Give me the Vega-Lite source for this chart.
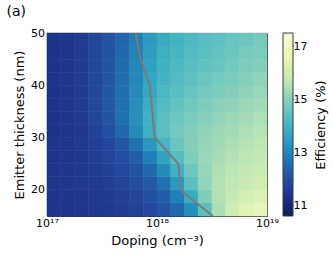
{
  "$schema": "https://vega.github.io/schema/vega-lite/v6.json",
  "padding": {"left": 6, "top": 5, "right": 2, "bottom": 2},
  "title": {"text": "(a)", "anchor": "start", "frame": "bounds", "fontSize": 14, "fontWeight": "normal", "font": "DejaVu Sans", "dx": -7, "offset": 8, "color": "black"},
  "config": {
    "font": "DejaVu Sans",
    "view": {"stroke": null},
    "axis": {"labelFont": "DejaVu Sans", "titleFont": "DejaVu Sans", "labelFontSize": 11, "titleFontSize": 13, "titleFontWeight": "normal", "labelColor": "black", "titleColor": "black", "domainColor": "#3a3a3a", "tickColor": "#3a3a3a", "grid": false}
  },
  "datasets": {
    "grid": [
      {"d0":1e17,"d1":1.334e17,"t0":15,"t1":17.5,"eff":10.75},{"d0":1.334e17,"d1":1.778e17,"t0":15,"t1":17.5,"eff":10.75},{"d0":1.778e17,"d1":2.371e17,"t0":15,"t1":17.5,"eff":10.8},{"d0":2.371e17,"d1":3.162e17,"t0":15,"t1":17.5,"eff":10.85},{"d0":3.162e17,"d1":4.217e17,"t0":15,"t1":17.5,"eff":10.9},{"d0":4.217e17,"d1":5.623e17,"t0":15,"t1":17.5,"eff":11.0},{"d0":5.623e17,"d1":7.499e17,"t0":15,"t1":17.5,"eff":11.1},{"d0":7.499e17,"d1":1e18,"t0":15,"t1":17.5,"eff":11.3},{"d0":1e18,"d1":1.334e18,"t0":15,"t1":17.5,"eff":11.6},{"d0":1.334e18,"d1":1.778e18,"t0":15,"t1":17.5,"eff":12.1},{"d0":1.778e18,"d1":2.371e18,"t0":15,"t1":17.5,"eff":13.0},{"d0":2.371e18,"d1":3.162e18,"t0":15,"t1":17.5,"eff":14.5},{"d0":3.162e18,"d1":4.217e18,"t0":15,"t1":17.5,"eff":15.8},{"d0":4.217e18,"d1":5.623e18,"t0":15,"t1":17.5,"eff":16.6},{"d0":5.623e18,"d1":7.499e18,"t0":15,"t1":17.5,"eff":16.95},{"d0":7.499e18,"d1":1e19,"t0":15,"t1":17.5,"eff":17.2},
      {"d0":1e17,"d1":1.334e17,"t0":17.5,"t1":20,"eff":10.75},{"d0":1.334e17,"d1":1.778e17,"t0":17.5,"t1":20,"eff":10.8},{"d0":1.778e17,"d1":2.371e17,"t0":17.5,"t1":20,"eff":10.8},{"d0":2.371e17,"d1":3.162e17,"t0":17.5,"t1":20,"eff":10.85},{"d0":3.162e17,"d1":4.217e17,"t0":17.5,"t1":20,"eff":10.95},{"d0":4.217e17,"d1":5.623e17,"t0":17.5,"t1":20,"eff":11.05},{"d0":5.623e17,"d1":7.499e17,"t0":17.5,"t1":20,"eff":11.25},{"d0":7.499e17,"d1":1e18,"t0":17.5,"t1":20,"eff":11.5},{"d0":1e18,"d1":1.334e18,"t0":17.5,"t1":20,"eff":11.9},{"d0":1.334e18,"d1":1.778e18,"t0":17.5,"t1":20,"eff":12.6},{"d0":1.778e18,"d1":2.371e18,"t0":17.5,"t1":20,"eff":13.8},{"d0":2.371e18,"d1":3.162e18,"t0":17.5,"t1":20,"eff":15.1},{"d0":3.162e18,"d1":4.217e18,"t0":17.5,"t1":20,"eff":15.95},{"d0":4.217e18,"d1":5.623e18,"t0":17.5,"t1":20,"eff":16.4},{"d0":5.623e18,"d1":7.499e18,"t0":17.5,"t1":20,"eff":16.65},{"d0":7.499e18,"d1":1e19,"t0":17.5,"t1":20,"eff":16.85},
      {"d0":1e17,"d1":1.334e17,"t0":20,"t1":22.5,"eff":10.75},{"d0":1.334e17,"d1":1.778e17,"t0":20,"t1":22.5,"eff":10.8},{"d0":1.778e17,"d1":2.371e17,"t0":20,"t1":22.5,"eff":10.85},{"d0":2.371e17,"d1":3.162e17,"t0":20,"t1":22.5,"eff":10.9},{"d0":3.162e17,"d1":4.217e17,"t0":20,"t1":22.5,"eff":11.0},{"d0":4.217e17,"d1":5.623e17,"t0":20,"t1":22.5,"eff":11.15},{"d0":5.623e17,"d1":7.499e17,"t0":20,"t1":22.5,"eff":11.4},{"d0":7.499e17,"d1":1e18,"t0":20,"t1":22.5,"eff":11.75},{"d0":1e18,"d1":1.334e18,"t0":20,"t1":22.5,"eff":12.3},{"d0":1.334e18,"d1":1.778e18,"t0":20,"t1":22.5,"eff":13.3},{"d0":1.778e18,"d1":2.371e18,"t0":20,"t1":22.5,"eff":14.5},{"d0":2.371e18,"d1":3.162e18,"t0":20,"t1":22.5,"eff":15.4},{"d0":3.162e18,"d1":4.217e18,"t0":20,"t1":22.5,"eff":15.95},{"d0":4.217e18,"d1":5.623e18,"t0":20,"t1":22.5,"eff":16.25},{"d0":5.623e18,"d1":7.499e18,"t0":20,"t1":22.5,"eff":16.45},{"d0":7.499e18,"d1":1e19,"t0":20,"t1":22.5,"eff":16.6},
      {"d0":1e17,"d1":1.334e17,"t0":22.5,"t1":25,"eff":10.75},{"d0":1.334e17,"d1":1.778e17,"t0":22.5,"t1":25,"eff":10.8},{"d0":1.778e17,"d1":2.371e17,"t0":22.5,"t1":25,"eff":10.85},{"d0":2.371e17,"d1":3.162e17,"t0":22.5,"t1":25,"eff":10.95},{"d0":3.162e17,"d1":4.217e17,"t0":22.5,"t1":25,"eff":11.1},{"d0":4.217e17,"d1":5.623e17,"t0":22.5,"t1":25,"eff":11.3},{"d0":5.623e17,"d1":7.499e17,"t0":22.5,"t1":25,"eff":11.6},{"d0":7.499e17,"d1":1e18,"t0":22.5,"t1":25,"eff":12.1},{"d0":1e18,"d1":1.334e18,"t0":22.5,"t1":25,"eff":12.9},{"d0":1.334e18,"d1":1.778e18,"t0":22.5,"t1":25,"eff":13.9},{"d0":1.778e18,"d1":2.371e18,"t0":22.5,"t1":25,"eff":14.8},{"d0":2.371e18,"d1":3.162e18,"t0":22.5,"t1":25,"eff":15.45},{"d0":3.162e18,"d1":4.217e18,"t0":22.5,"t1":25,"eff":15.85},{"d0":4.217e18,"d1":5.623e18,"t0":22.5,"t1":25,"eff":16.1},{"d0":5.623e18,"d1":7.499e18,"t0":22.5,"t1":25,"eff":16.3},{"d0":7.499e18,"d1":1e19,"t0":22.5,"t1":25,"eff":16.45},
      {"d0":1e17,"d1":1.334e17,"t0":25,"t1":27.5,"eff":10.75},{"d0":1.334e17,"d1":1.778e17,"t0":25,"t1":27.5,"eff":10.8},{"d0":1.778e17,"d1":2.371e17,"t0":25,"t1":27.5,"eff":10.85},{"d0":2.371e17,"d1":3.162e17,"t0":25,"t1":27.5,"eff":11.0},{"d0":3.162e17,"d1":4.217e17,"t0":25,"t1":27.5,"eff":11.2},{"d0":4.217e17,"d1":5.623e17,"t0":25,"t1":27.5,"eff":11.45},{"d0":5.623e17,"d1":7.499e17,"t0":25,"t1":27.5,"eff":11.9},{"d0":7.499e17,"d1":1e18,"t0":25,"t1":27.5,"eff":12.6},{"d0":1e18,"d1":1.334e18,"t0":25,"t1":27.5,"eff":13.5},{"d0":1.334e18,"d1":1.778e18,"t0":25,"t1":27.5,"eff":14.4},{"d0":1.778e18,"d1":2.371e18,"t0":25,"t1":27.5,"eff":15.1},{"d0":2.371e18,"d1":3.162e18,"t0":25,"t1":27.5,"eff":15.5},{"d0":3.162e18,"d1":4.217e18,"t0":25,"t1":27.5,"eff":15.75},{"d0":4.217e18,"d1":5.623e18,"t0":25,"t1":27.5,"eff":15.95},{"d0":5.623e18,"d1":7.499e18,"t0":25,"t1":27.5,"eff":16.15},{"d0":7.499e18,"d1":1e19,"t0":25,"t1":27.5,"eff":16.3},
      {"d0":1e17,"d1":1.334e17,"t0":27.5,"t1":30,"eff":10.75},{"d0":1.334e17,"d1":1.778e17,"t0":27.5,"t1":30,"eff":10.8},{"d0":1.778e17,"d1":2.371e17,"t0":27.5,"t1":30,"eff":10.9},{"d0":2.371e17,"d1":3.162e17,"t0":27.5,"t1":30,"eff":11.05},{"d0":3.162e17,"d1":4.217e17,"t0":27.5,"t1":30,"eff":11.3},{"d0":4.217e17,"d1":5.623e17,"t0":27.5,"t1":30,"eff":11.7},{"d0":5.623e17,"d1":7.499e17,"t0":27.5,"t1":30,"eff":12.3},{"d0":7.499e17,"d1":1e18,"t0":27.5,"t1":30,"eff":13.2},{"d0":1e18,"d1":1.334e18,"t0":27.5,"t1":30,"eff":14.1},{"d0":1.334e18,"d1":1.778e18,"t0":27.5,"t1":30,"eff":14.8},{"d0":1.778e18,"d1":2.371e18,"t0":27.5,"t1":30,"eff":15.2},{"d0":2.371e18,"d1":3.162e18,"t0":27.5,"t1":30,"eff":15.45},{"d0":3.162e18,"d1":4.217e18,"t0":27.5,"t1":30,"eff":15.65},{"d0":4.217e18,"d1":5.623e18,"t0":27.5,"t1":30,"eff":15.85},{"d0":5.623e18,"d1":7.499e18,"t0":27.5,"t1":30,"eff":16.0},{"d0":7.499e18,"d1":1e19,"t0":27.5,"t1":30,"eff":16.15},
      {"d0":1e17,"d1":1.334e17,"t0":30,"t1":32.5,"eff":10.7},{"d0":1.334e17,"d1":1.778e17,"t0":30,"t1":32.5,"eff":10.75},{"d0":1.778e17,"d1":2.371e17,"t0":30,"t1":32.5,"eff":10.85},{"d0":2.371e17,"d1":3.162e17,"t0":30,"t1":32.5,"eff":11.1},{"d0":3.162e17,"d1":4.217e17,"t0":30,"t1":32.5,"eff":11.5},{"d0":4.217e17,"d1":5.623e17,"t0":30,"t1":32.5,"eff":12.1},{"d0":5.623e17,"d1":7.499e17,"t0":30,"t1":32.5,"eff":12.9},{"d0":7.499e17,"d1":1e18,"t0":30,"t1":32.5,"eff":13.85},{"d0":1e18,"d1":1.334e18,"t0":30,"t1":32.5,"eff":14.5},{"d0":1.334e18,"d1":1.778e18,"t0":30,"t1":32.5,"eff":14.9},{"d0":1.778e18,"d1":2.371e18,"t0":30,"t1":32.5,"eff":15.15},{"d0":2.371e18,"d1":3.162e18,"t0":30,"t1":32.5,"eff":15.35},{"d0":3.162e18,"d1":4.217e18,"t0":30,"t1":32.5,"eff":15.55},{"d0":4.217e18,"d1":5.623e18,"t0":30,"t1":32.5,"eff":15.7},{"d0":5.623e18,"d1":7.499e18,"t0":30,"t1":32.5,"eff":15.85},{"d0":7.499e18,"d1":1e19,"t0":30,"t1":32.5,"eff":16.0},
      {"d0":1e17,"d1":1.334e17,"t0":32.5,"t1":35,"eff":10.7},{"d0":1.334e17,"d1":1.778e17,"t0":32.5,"t1":35,"eff":10.8},{"d0":1.778e17,"d1":2.371e17,"t0":32.5,"t1":35,"eff":10.9},{"d0":2.371e17,"d1":3.162e17,"t0":32.5,"t1":35,"eff":11.2},{"d0":3.162e17,"d1":4.217e17,"t0":32.5,"t1":35,"eff":11.65},{"d0":4.217e17,"d1":5.623e17,"t0":32.5,"t1":35,"eff":12.3},{"d0":5.623e17,"d1":7.499e17,"t0":32.5,"t1":35,"eff":13.05},{"d0":7.499e17,"d1":1e18,"t0":32.5,"t1":35,"eff":13.95},{"d0":1e18,"d1":1.334e18,"t0":32.5,"t1":35,"eff":14.5},{"d0":1.334e18,"d1":1.778e18,"t0":32.5,"t1":35,"eff":14.8},{"d0":1.778e18,"d1":2.371e18,"t0":32.5,"t1":35,"eff":15.0},{"d0":2.371e18,"d1":3.162e18,"t0":32.5,"t1":35,"eff":15.2},{"d0":3.162e18,"d1":4.217e18,"t0":32.5,"t1":35,"eff":15.4},{"d0":4.217e18,"d1":5.623e18,"t0":32.5,"t1":35,"eff":15.55},{"d0":5.623e18,"d1":7.499e18,"t0":32.5,"t1":35,"eff":15.7},{"d0":7.499e18,"d1":1e19,"t0":32.5,"t1":35,"eff":15.85},
      {"d0":1e17,"d1":1.334e17,"t0":35,"t1":37.5,"eff":10.7},{"d0":1.334e17,"d1":1.778e17,"t0":35,"t1":37.5,"eff":10.8},{"d0":1.778e17,"d1":2.371e17,"t0":35,"t1":37.5,"eff":10.95},{"d0":2.371e17,"d1":3.162e17,"t0":35,"t1":37.5,"eff":11.25},{"d0":3.162e17,"d1":4.217e17,"t0":35,"t1":37.5,"eff":11.7},{"d0":4.217e17,"d1":5.623e17,"t0":35,"t1":37.5,"eff":12.3},{"d0":5.623e17,"d1":7.499e17,"t0":35,"t1":37.5,"eff":13.0},{"d0":7.499e17,"d1":1e18,"t0":35,"t1":37.5,"eff":13.8},{"d0":1e18,"d1":1.334e18,"t0":35,"t1":37.5,"eff":14.35},{"d0":1.334e18,"d1":1.778e18,"t0":35,"t1":37.5,"eff":14.65},{"d0":1.778e18,"d1":2.371e18,"t0":35,"t1":37.5,"eff":14.85},{"d0":2.371e18,"d1":3.162e18,"t0":35,"t1":37.5,"eff":15.05},{"d0":3.162e18,"d1":4.217e18,"t0":35,"t1":37.5,"eff":15.25},{"d0":4.217e18,"d1":5.623e18,"t0":35,"t1":37.5,"eff":15.4},{"d0":5.623e18,"d1":7.499e18,"t0":35,"t1":37.5,"eff":15.55},{"d0":7.499e18,"d1":1e19,"t0":35,"t1":37.5,"eff":15.7},
      {"d0":1e17,"d1":1.334e17,"t0":37.5,"t1":40,"eff":10.7},{"d0":1.334e17,"d1":1.778e17,"t0":37.5,"t1":40,"eff":10.8},{"d0":1.778e17,"d1":2.371e17,"t0":37.5,"t1":40,"eff":10.95},{"d0":2.371e17,"d1":3.162e17,"t0":37.5,"t1":40,"eff":11.25},{"d0":3.162e17,"d1":4.217e17,"t0":37.5,"t1":40,"eff":11.7},{"d0":4.217e17,"d1":5.623e17,"t0":37.5,"t1":40,"eff":12.25},{"d0":5.623e17,"d1":7.499e17,"t0":37.5,"t1":40,"eff":12.9},{"d0":7.499e17,"d1":1e18,"t0":37.5,"t1":40,"eff":13.65},{"d0":1e18,"d1":1.334e18,"t0":37.5,"t1":40,"eff":14.2},{"d0":1.334e18,"d1":1.778e18,"t0":37.5,"t1":40,"eff":14.5},{"d0":1.778e18,"d1":2.371e18,"t0":37.5,"t1":40,"eff":14.7},{"d0":2.371e18,"d1":3.162e18,"t0":37.5,"t1":40,"eff":14.9},{"d0":3.162e18,"d1":4.217e18,"t0":37.5,"t1":40,"eff":15.05},{"d0":4.217e18,"d1":5.623e18,"t0":37.5,"t1":40,"eff":15.2},{"d0":5.623e18,"d1":7.499e18,"t0":37.5,"t1":40,"eff":15.35},{"d0":7.499e18,"d1":1e19,"t0":37.5,"t1":40,"eff":15.5},
      {"d0":1e17,"d1":1.334e17,"t0":40,"t1":42.5,"eff":10.7},{"d0":1.334e17,"d1":1.778e17,"t0":40,"t1":42.5,"eff":10.8},{"d0":1.778e17,"d1":2.371e17,"t0":40,"t1":42.5,"eff":10.95},{"d0":2.371e17,"d1":3.162e17,"t0":40,"t1":42.5,"eff":11.25},{"d0":3.162e17,"d1":4.217e17,"t0":40,"t1":42.5,"eff":11.65},{"d0":4.217e17,"d1":5.623e17,"t0":40,"t1":42.5,"eff":12.2},{"d0":5.623e17,"d1":7.499e17,"t0":40,"t1":42.5,"eff":12.85},{"d0":7.499e17,"d1":1e18,"t0":40,"t1":42.5,"eff":13.55},{"d0":1e18,"d1":1.334e18,"t0":40,"t1":42.5,"eff":14.05},{"d0":1.334e18,"d1":1.778e18,"t0":40,"t1":42.5,"eff":14.35},{"d0":1.778e18,"d1":2.371e18,"t0":40,"t1":42.5,"eff":14.55},{"d0":2.371e18,"d1":3.162e18,"t0":40,"t1":42.5,"eff":14.75},{"d0":3.162e18,"d1":4.217e18,"t0":40,"t1":42.5,"eff":14.9},{"d0":4.217e18,"d1":5.623e18,"t0":40,"t1":42.5,"eff":15.05},{"d0":5.623e18,"d1":7.499e18,"t0":40,"t1":42.5,"eff":15.2},{"d0":7.499e18,"d1":1e19,"t0":40,"t1":42.5,"eff":15.35},
      {"d0":1e17,"d1":1.334e17,"t0":42.5,"t1":45,"eff":10.7},{"d0":1.334e17,"d1":1.778e17,"t0":42.5,"t1":45,"eff":10.8},{"d0":1.778e17,"d1":2.371e17,"t0":42.5,"t1":45,"eff":10.95},{"d0":2.371e17,"d1":3.162e17,"t0":42.5,"t1":45,"eff":11.25},{"d0":3.162e17,"d1":4.217e17,"t0":42.5,"t1":45,"eff":11.65},{"d0":4.217e17,"d1":5.623e17,"t0":42.5,"t1":45,"eff":12.15},{"d0":5.623e17,"d1":7.499e17,"t0":42.5,"t1":45,"eff":12.8},{"d0":7.499e17,"d1":1e18,"t0":42.5,"t1":45,"eff":13.45},{"d0":1e18,"d1":1.334e18,"t0":42.5,"t1":45,"eff":13.95},{"d0":1.334e18,"d1":1.778e18,"t0":42.5,"t1":45,"eff":14.25},{"d0":1.778e18,"d1":2.371e18,"t0":42.5,"t1":45,"eff":14.45},{"d0":2.371e18,"d1":3.162e18,"t0":42.5,"t1":45,"eff":14.6},{"d0":3.162e18,"d1":4.217e18,"t0":42.5,"t1":45,"eff":14.75},{"d0":4.217e18,"d1":5.623e18,"t0":42.5,"t1":45,"eff":14.9},{"d0":5.623e18,"d1":7.499e18,"t0":42.5,"t1":45,"eff":15.05},{"d0":7.499e18,"d1":1e19,"t0":42.5,"t1":45,"eff":15.2},
      {"d0":1e17,"d1":1.334e17,"t0":45,"t1":47.5,"eff":10.7},{"d0":1.334e17,"d1":1.778e17,"t0":45,"t1":47.5,"eff":10.8},{"d0":1.778e17,"d1":2.371e17,"t0":45,"t1":47.5,"eff":10.95},{"d0":2.371e17,"d1":3.162e17,"t0":45,"t1":47.5,"eff":11.25},{"d0":3.162e17,"d1":4.217e17,"t0":45,"t1":47.5,"eff":11.65},{"d0":4.217e17,"d1":5.623e17,"t0":45,"t1":47.5,"eff":12.1},{"d0":5.623e17,"d1":7.499e17,"t0":45,"t1":47.5,"eff":12.7},{"d0":7.499e17,"d1":1e18,"t0":45,"t1":47.5,"eff":13.35},{"d0":1e18,"d1":1.334e18,"t0":45,"t1":47.5,"eff":13.85},{"d0":1.334e18,"d1":1.778e18,"t0":45,"t1":47.5,"eff":14.15},{"d0":1.778e18,"d1":2.371e18,"t0":45,"t1":47.5,"eff":14.35},{"d0":2.371e18,"d1":3.162e18,"t0":45,"t1":47.5,"eff":14.5},{"d0":3.162e18,"d1":4.217e18,"t0":45,"t1":47.5,"eff":14.65},{"d0":4.217e18,"d1":5.623e18,"t0":45,"t1":47.5,"eff":14.8},{"d0":5.623e18,"d1":7.499e18,"t0":45,"t1":47.5,"eff":14.95},{"d0":7.499e18,"d1":1e19,"t0":45,"t1":47.5,"eff":15.05},
      {"d0":1e17,"d1":1.334e17,"t0":47.5,"t1":50,"eff":10.65},{"d0":1.334e17,"d1":1.778e17,"t0":47.5,"t1":50,"eff":10.75},{"d0":1.778e17,"d1":2.371e17,"t0":47.5,"t1":50,"eff":10.95},{"d0":2.371e17,"d1":3.162e17,"t0":47.5,"t1":50,"eff":11.25},{"d0":3.162e17,"d1":4.217e17,"t0":47.5,"t1":50,"eff":11.6},{"d0":4.217e17,"d1":5.623e17,"t0":47.5,"t1":50,"eff":12.05},{"d0":5.623e17,"d1":7.499e17,"t0":47.5,"t1":50,"eff":12.6},{"d0":7.499e17,"d1":1e18,"t0":47.5,"t1":50,"eff":13.25},{"d0":1e18,"d1":1.334e18,"t0":47.5,"t1":50,"eff":13.75},{"d0":1.334e18,"d1":1.778e18,"t0":47.5,"t1":50,"eff":14.05},{"d0":1.778e18,"d1":2.371e18,"t0":47.5,"t1":50,"eff":14.25},{"d0":2.371e18,"d1":3.162e18,"t0":47.5,"t1":50,"eff":14.4},{"d0":3.162e18,"d1":4.217e18,"t0":47.5,"t1":50,"eff":14.55},{"d0":4.217e18,"d1":5.623e18,"t0":47.5,"t1":50,"eff":14.7},{"d0":5.623e18,"d1":7.499e18,"t0":47.5,"t1":50,"eff":14.8},{"d0":7.499e18,"d1":1e19,"t0":47.5,"t1":50,"eff":14.95}
    ],
    "optimum": [
      {"doping": 6.37e17, "thickness": 50},
      {"doping": 7.11e17, "thickness": 45},
      {"doping": 8.59e17, "thickness": 40},
      {"doping": 9.53e17, "thickness": 30},
      {"doping": 1.56e18, "thickness": 25},
      {"doping": 1.64e18, "thickness": 20},
      {"doping": 1.85e18, "thickness": 19},
      {"doping": 3.22e18, "thickness": 15}
    ],
    "cbar": [{"lo": 10.6, "hi": 17.5}]
  },
  "hconcat": [
    {
      "width": 220,
      "height": 183,
      "layer": [
        {
          "data": {"name": "grid"},
          "mark": {"type": "rect", "strokeWidth": 0.6},
          "encoding": {
            "x": {"field": "d0", "type": "quantitative",
              "scale": {"type": "log", "domain": [1e17, 1e19], "nice": false},
              "axis": {"orient": "bottom", "title": "Doping (cm⁻³)",
                "values": [1e17,2e17,3e17,4e17,5e17,6e17,7e17,8e17,9e17,1e18,2e18,3e18,4e18,5e18,6e18,7e18,8e18,9e18,1e19],
                "labelExpr": "datum.value == 1e17 ? '10¹⁷' : datum.value == 1e18 ? '10¹⁸' : datum.value == 1e19 ? '10¹⁹' : ''",
                "tickSize": {"condition": {"test": "datum.value == 1e17 || datum.value == 1e18 || datum.value == 1e19", "value": -5}, "value": -2.5},
                "labelPadding": 6, "titlePadding": 4, "labelFlush": false, "labelOverlap": false}},
            "x2": {"field": "d1"},
            "y": {"field": "t0", "type": "quantitative",
              "scale": {"domain": [15, 50], "nice": false, "zero": false},
              "axis": {"orient": "left", "title": "Emitter thickness (nm)",
                "values": [20,25,30,35,40,45,50],
                "labelExpr": "datum.value % 10 == 0 ? datum.label : ''",
                "tickSize": {"condition": {"test": "datum.value % 10 == 0", "value": -5}, "value": -2.5},
                "labelPadding": 7.5, "titlePadding": 4, "labelFlush": false, "labelOverlap": false}},
            "y2": {"field": "t1"},
            "color": {"field": "eff", "type": "quantitative", "scale": {"scheme": "yellowgreenblue", "reverse": true, "domain": [10.6, 17.5]}, "legend": null},
            "stroke": {"field": "eff", "type": "quantitative", "scale": {"scheme": "yellowgreenblue", "reverse": true, "domain": [10.6, 17.5]}, "legend": null}
          }
        },
        {
          "data": {"name": "optimum"},
          "mark": {"type": "line", "color": "#7a7a7a", "strokeWidth": 2},
          "encoding": {
            "x": {"field": "doping", "type": "quantitative",
              "axis": {"orient": "top", "title": null, "labels": false,
                "values": [1e17,2e17,3e17,4e17,5e17,6e17,7e17,8e17,9e17,1e18,2e18,3e18,4e18,5e18,6e18,7e18,8e18,9e18,1e19],
                "tickSize": {"condition": {"test": "datum.value == 1e17 || datum.value == 1e18 || datum.value == 1e19", "value": -5}, "value": -2.5}}},
            "y": {"field": "thickness", "type": "quantitative",
              "axis": {"orient": "right", "title": null, "labels": false,
                "values": [20,25,30,35,40,45,50],
                "tickSize": {"condition": {"test": "datum.value % 10 == 0", "value": -5}, "value": -2.5}}},
            "order": {"field": "thickness", "sort": "descending"}
          }
        }
      ],
      "resolve": {"axis": {"x": "independent", "y": "independent"}}
    },
    {
      "width": 10,
      "height": 183,
      "data": {"name": "cbar"},
      "mark": {"type": "rect", "stroke": "#3a3a3a", "strokeWidth": 1,
        "color": {"gradient": "linear", "x1": 0, "y1": 1, "x2": 0, "y2": 0,
          "stops": [
            {"offset": 0, "color": "#081d58"},
            {"offset": 0.125, "color": "#253494"},
            {"offset": 0.25, "color": "#225ea8"},
            {"offset": 0.375, "color": "#1d91c0"},
            {"offset": 0.5, "color": "#41b6c4"},
            {"offset": 0.625, "color": "#7fcdbb"},
            {"offset": 0.75, "color": "#c7e9b4"},
            {"offset": 0.875, "color": "#edf8b1"},
            {"offset": 1, "color": "#ffffd9"}
          ]}},
      "encoding": {
        "y": {"field": "lo", "type": "quantitative",
          "scale": {"domain": [10.6, 17.5], "nice": false, "zero": false},
          "axis": {"orient": "right", "title": "Efficiency (%)", "titleAngle": 270, "titleBaseline": "top",
            "values": [11,12,13,14,15,16,17],
            "labelExpr": "datum.value % 2 == 1 ? datum.label : ''",
            "tickSize": -3, "labelPadding": 3, "titlePadding": 8, "domain": false, "labelFlush": false, "labelOverlap": false}},
        "y2": {"field": "hi"}
      }
    }
  ],
  "spacing": 3
}
